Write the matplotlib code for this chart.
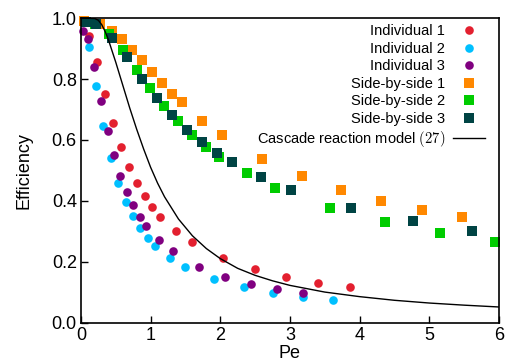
import numpy as np
import matplotlib
matplotlib.use("Agg")
import matplotlib.pyplot as plt

plt.rcParams['font.family'] = ['Liberation Sans', 'DejaVu Sans']
plt.rcParams['mathtext.fontset'] = 'cm'

# Individual electrodes
ind1_pe = [0.12, 0.234, 0.344, 0.455, 0.57, 0.684, 0.80, 0.914, 1.023, 1.133, 1.363, 1.593, 2.037, 2.50, 2.95, 3.405, 3.86]
ind1_eff = [0.94, 0.856, 0.752, 0.657, 0.577, 0.511, 0.460, 0.416, 0.379, 0.348, 0.301, 0.263, 0.212, 0.177, 0.151, 0.131, 0.116]

ind2_pe = [0.11, 0.211, 0.32, 0.426, 0.535, 0.641, 0.742, 0.846, 0.961, 1.066, 1.28, 1.49, 1.91, 2.34, 2.76, 3.19, 3.62]
ind2_eff = [0.907, 0.778, 0.647, 0.541, 0.46, 0.397, 0.35, 0.31, 0.278, 0.25, 0.212, 0.183, 0.144, 0.117, 0.098, 0.085, 0.074]

ind3_pe = [0.024, 0.10, 0.187, 0.283, 0.383, 0.468, 0.564, 0.66, 0.75, 0.846, 0.937, 1.123, 1.316, 1.689, 2.062, 2.44, 2.81, 3.185]
ind3_eff = [0.958, 0.932, 0.838, 0.729, 0.63, 0.549, 0.482, 0.429, 0.385, 0.348, 0.317, 0.27, 0.234, 0.183, 0.151, 0.127, 0.11, 0.096]

# Side-by-side electrodes
sbs1_pe = [0.05, 0.27, 0.44, 0.584, 0.727, 0.871, 1.014, 1.158, 1.301, 1.445, 1.732, 2.019, 2.593, 3.167, 3.74, 4.314, 4.902, 5.476]
sbs1_eff = [0.99, 0.98, 0.959, 0.932, 0.896, 0.861, 0.824, 0.788, 0.752, 0.723, 0.663, 0.617, 0.538, 0.483, 0.437, 0.40, 0.371, 0.348]

sbs2_pe = [0.2, 0.406, 0.598, 0.80, 0.986, 1.187, 1.388, 1.588, 1.793, 1.98, 2.377, 2.783, 3.572, 4.36, 5.15, 5.94]
sbs2_eff = [0.981, 0.948, 0.897, 0.831, 0.769, 0.713, 0.663, 0.617, 0.578, 0.545, 0.49, 0.443, 0.377, 0.331, 0.295, 0.265]

sbs3_pe = [0.072, 0.21, 0.44, 0.656, 0.871, 1.086, 1.30, 1.517, 1.732, 1.947, 2.162, 2.58, 3.022, 3.88, 4.76, 5.62]
sbs3_eff = [0.986, 0.98, 0.936, 0.874, 0.80, 0.739, 0.683, 0.633, 0.594, 0.558, 0.529, 0.477, 0.437, 0.377, 0.335, 0.302]

# Cascade reaction model
model_pe = [0.0, 0.1, 0.2, 0.25, 0.3, 0.35, 0.4, 0.5, 0.6, 0.7, 0.8, 0.9, 1.0, 1.1, 1.2, 1.4, 1.6, 1.8,
            2.0, 2.25, 2.5, 2.75, 3.0, 3.5, 4.0, 4.5, 5.0, 5.5, 6.0]
model_eff = [1.0, 1.0, 0.999, 0.993, 0.978, 0.955, 0.925, 0.855, 0.78, 0.705, 0.635, 0.57, 0.51, 0.458, 0.413,
             0.34, 0.285, 0.243, 0.21, 0.178, 0.155, 0.137, 0.122, 0.100, 0.085, 0.073, 0.064, 0.057, 0.051]

fig = plt.figure(figsize=(5.06, 3.64), dpi=100)
ax = fig.add_axes([0.160, 0.114, 0.826, 0.836])

ax.plot(ind1_pe, ind1_eff, 'o', color='#e3202f', ms=6.2, mew=0, clip_on=False, label='Individual 1')
ax.plot(ind2_pe, ind2_eff, 'o', color='#00c0ff', ms=6.2, mew=0, clip_on=False, label='Individual 2')
ax.plot(ind3_pe, ind3_eff, 'o', color='#800080', ms=6.2, mew=0, clip_on=False, label='Individual 3')
ax.plot(sbs1_pe, sbs1_eff, 's', color='#ff8800', ms=7.2, mew=0, clip_on=False, label='Side-by-side 1')
ax.plot(sbs2_pe, sbs2_eff, 's', color='#00cc00', ms=7.2, mew=0, clip_on=False, label='Side-by-side 2')
ax.plot(sbs3_pe, sbs3_eff, 's', color='#004444', ms=7.2, mew=0, clip_on=False, label='Side-by-side 3')
ax.plot(model_pe, model_eff, '-', color='black', lw=1.0, label='Cascade reaction model $(27)$')

ax.set_xlim(0, 6)
ax.set_ylim(0, 1.0)
ax.set_xticks([0, 1, 2, 3, 4, 5, 6])
ax.set_yticks([0.0, 0.2, 0.4, 0.6, 0.8, 1.0])
ax.set_yticklabels(['0.0', '0.2', '0.4', '0.6', '0.8', '1.0'])
ax.tick_params(direction='in', length=5, width=1, labelsize=13, pad=3)
for s in ax.spines.values():
    s.set_linewidth(1.2)
ax.set_xlabel('Pe', fontsize=13, labelpad=1)
ax.set_ylabel('Efficiency', fontsize=13, labelpad=14)

leg = ax.legend(loc='upper right', bbox_to_anchor=(0.9665, 0.98), frameon=False, markerfirst=False,
                fontsize=10.5, handlelength=2.2, labelspacing=0.24, borderaxespad=0, borderpad=0,
                handletextpad=0.55)

fig.savefig('out.png', dpi=100)
